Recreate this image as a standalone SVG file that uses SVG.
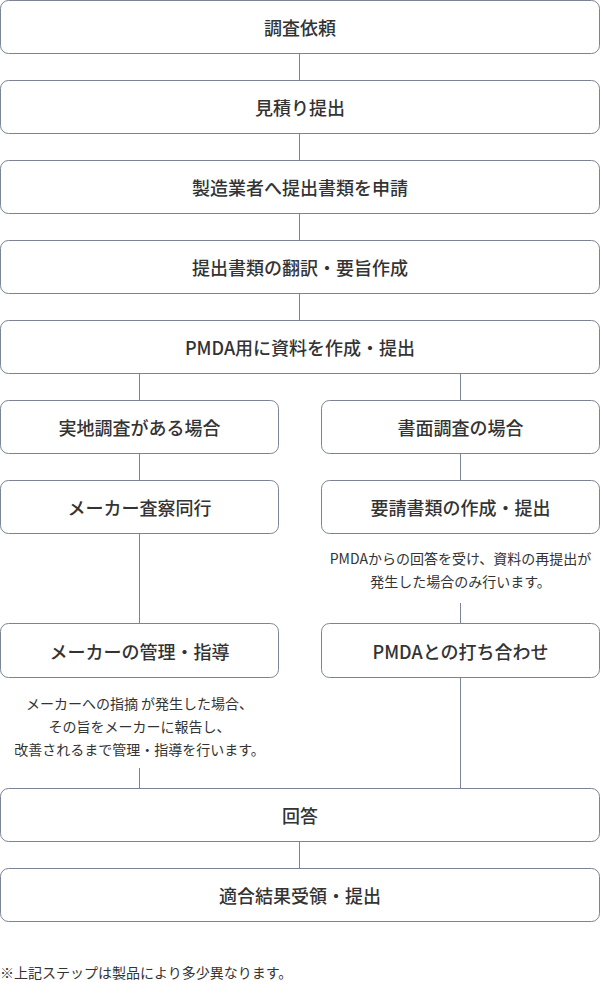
<svg xmlns="http://www.w3.org/2000/svg" width="600" height="982" viewBox="0 0 600 982">
<style>
.box{fill:#fff;stroke:#7b8494;stroke-width:1}
.lbl{font-family:"Noto Sans CJK JP","Noto Sans",sans-serif;font-size:18px;font-weight:500;fill:#333;text-anchor:middle;dominant-baseline:central}
.note{font-family:"Noto Sans CJK JP","Noto Sans",sans-serif;font-size:14px;font-weight:400;fill:#333;text-anchor:middle;dominant-baseline:central}
.con{stroke:#7b8494;stroke-width:1;fill:none}
</style>
<rect width="600" height="982" fill="#fff"/>
<g id="connectors">
<line class="con" x1="299.5" y1="53.5" x2="299.5" y2="80.5"/>
<line class="con" x1="299.5" y1="133.5" x2="299.5" y2="160.5"/>
<line class="con" x1="299.5" y1="213.5" x2="299.5" y2="240.5"/>
<line class="con" x1="299.5" y1="293.5" x2="299.5" y2="320.5"/>
<line class="con" x1="139.5" y1="373.5" x2="139.5" y2="400.5"/>
<line class="con" x1="460.5" y1="373.5" x2="460.5" y2="400.5"/>
<line class="con" x1="139.5" y1="453.5" x2="139.5" y2="480.5"/>
<line class="con" x1="460.5" y1="453.5" x2="460.5" y2="480.5"/>
<line class="con" x1="139.5" y1="533.5" x2="139.5" y2="623.5"/>
<line class="con" x1="460.5" y1="603" x2="460.5" y2="623.5"/>
<line class="con" x1="139.5" y1="768" x2="139.5" y2="788.5"/>
<line class="con" x1="460.5" y1="677.5" x2="460.5" y2="788.5"/>
<line class="con" x1="299.5" y1="841.5" x2="299.5" y2="868.5"/>
</g>
<g id="n1"><rect class="box" x="0.5" y="0.5" width="599" height="53" rx="8"/><text class="lbl" x="300" y="27">調査依頼</text></g>
<g id="n2"><rect class="box" x="0.5" y="80.5" width="599" height="53" rx="8"/><text class="lbl" x="300" y="107">見積り提出</text></g>
<g id="n3"><rect class="box" x="0.5" y="160.5" width="599" height="53" rx="8"/><text class="lbl" x="300" y="187">製造業者へ提出書類を申請</text></g>
<g id="n4"><rect class="box" x="0.5" y="240.5" width="599" height="53" rx="8"/><text class="lbl" x="300" y="267">提出書類の翻訳・要旨作成</text></g>
<g id="n5"><rect class="box" x="0.5" y="320.5" width="599" height="53" rx="8"/><text class="lbl" x="300" y="347">PMDA用に資料を作成・提出</text></g>
<g id="n6"><rect class="box" x="0.5" y="400.5" width="278" height="53" rx="8"/><text class="lbl" x="139.5" y="427">実地調査がある場合</text></g>
<g id="n7"><rect class="box" x="321.5" y="400.5" width="278" height="53" rx="8"/><text class="lbl" x="460.5" y="427">書面調査の場合</text></g>
<g id="n8"><rect class="box" x="0.5" y="480.5" width="278" height="53" rx="8"/><text class="lbl" x="139.5" y="507">メーカー査察同行</text></g>
<g id="n9"><rect class="box" x="321.5" y="480.5" width="278" height="53" rx="8"/><text class="lbl" x="460.5" y="507">要請書類の作成・提出</text></g>
<g id="note-right"><text class="note" x="460.5" y="557.5">PMDAからの回答を受け、資料の再提出が</text><text class="note" x="460.5" y="580.5">発生した場合のみ行います。</text></g>
<g id="n10"><rect class="box" x="0.5" y="623.5" width="278" height="54" rx="8"/><text class="lbl" x="139.5" y="650.5">メーカーの管理・指導</text></g>
<g id="n11"><rect class="box" x="321.5" y="623.5" width="278" height="54" rx="8"/><text class="lbl" x="460.5" y="650.5">PMDAとの打ち合わせ</text></g>
<g id="note-left"><text class="note" x="139.5" y="702.5">メーカーへの指摘 が発生した場合、</text><text class="note" x="139.5" y="725.5">その旨をメーカーに報告し、</text><text class="note" x="139.5" y="748.5">改善されるまで管理・指導を行います。</text></g>
<g id="n12"><rect class="box" x="0.5" y="788.5" width="599" height="53" rx="8"/><text class="lbl" x="300" y="815">回答</text></g>
<g id="n13"><rect class="box" x="0.5" y="868.5" width="599" height="53" rx="8"/><text class="lbl" x="300" y="895">適合結果受領・提出</text></g>
<text class="note" x="0" y="971.5" style="text-anchor:start">※上記ステップは製品により多少異なります。</text>
</svg>
